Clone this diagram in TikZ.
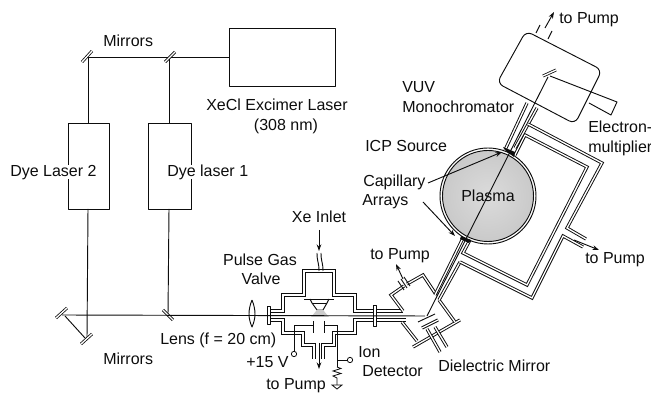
\documentclass[tikz,border=0pt]{standalone}
\usepackage{fontspec}
\setmainfont{Liberation Sans}
\usetikzlibrary{arrows.meta}
\definecolor{ink}{gray}{0.05}
\tikzset{
 lbl/.style={font=\fontsize{12pt}{14pt}\selectfont,text=ink,inner sep=0pt,text height=8.6pt,text depth=2.4pt},
 ln/.style={draw=ink,line width=0.7pt,line join=round},
 thin1/.style={draw=ink,line width=0.6pt},
 dbl/.style={preaction={draw=ink,line width=2.4pt,line join=miter},draw=white,line width=1pt,line join=miter},
 dblk/.style={preaction={draw=ink,line width=2.8pt,line join=miter},draw=white,line width=0.9pt,line join=miter},
 mirr/.style={preaction={draw=ink,line width=2.2pt},draw=white,line width=1pt},
 arr/.style={draw=ink,line width=0.7pt,-{Stealth[length=5pt,width=3.5pt]}},
}
\begin{document}
\begin{tikzpicture}[x=0.75pt,y=-0.75pt]
\useasboundingbox (0,0) rectangle (651,398);
% lasers
\draw[ln] (229,28) rectangle (335,86);
\coordinate (exL) at (229,57);
\draw[ln] (68,123) rectangle (109,209);
\draw[ln] (148,123) rectangle (191,209);
% beams
\coordinate (m1) at (88,57); \coordinate (m2) at (169,57);
\coordinate (m3) at (168,315); \coordinate (m4) at (87,338);
\coordinate (m5) at (62,315);
\draw[ln] (exL) -- (m1) -- (88,123);
\draw[ln] (m2) -- (169,123);
\draw[ln] (88,209) -- (m4);
\draw[ln] (169,209) -- (m3);
% mirrors
\draw[mirr] (82,62) -- (92,51);
\draw[mirr] (165,62) -- (175,52);
\draw[mirr] (56,318) -- (67,308);
\draw[mirr] (81,344) -- (92,334);
\draw[mirr] (163,310) -- (173,320);
\draw[ln] (65,316) -- (85,338);
% lens
\draw[ln] (252,300) .. controls (248,310) and (248,318) .. (252,327) .. controls (256,318) and (256,310) .. (252,300);
% chamber
\draw[dblk] (270,311) -- (283,311) -- (283,295) -- (304,295) -- (304,271) -- (334,271) -- (334,295) -- (355,295) -- (355,311) -- (373,311);
\draw[dblk] (270,320) -- (283,320) -- (283,333) -- (303,333) -- (303,345) -- (314,345) -- (314,359);
\draw[dblk] (323,359) -- (323,345) -- (334,345) -- (334,333) -- (355,333) -- (355,320) -- (373,320);
\draw[dblk] (376,311) -- (403,311);
\draw[dblk] (376,320) -- (406,320);
% flanges
\draw[ln,fill=white] (267,306) rectangle (270,324);
\draw[ln,fill=white] (373,305) rectangle (376,326);
% valve
\draw[ln] (304,299) -- (334,299);
\draw[ln] (310,299) -- (312,303) -- (317,310) -- (323,310) -- (327,303) -- (329,299);
\draw[ln] (312,303) -- (327,303);
\fill[gray!40] (317,310) -- (323,310) -- (329,317) -- (311,317) -- cycle;
% axis beam over the plume
\draw[ln] (m5) -- (425,316);
\draw[ln] (319,271) .. controls (319,262) and (317,262) .. (317,253);
\draw[ln] (323,271) .. controls (323,262) and (321,262) .. (321,253);
\draw[arr] (319,230) -- (319,251);
% electrodes
\draw[thin1] (294,354) -- (294,325) -- (313,325);
\draw[thin1] (313,321) -- (313,333);
\draw[thin1] (324,321) -- (324,333);
\draw[thin1] (324,325) -- (337,325) -- (337,367);
\draw[thin1] (337,367) -- (341,368.5) -- (333,371) -- (341,373.5) -- (333,376) -- (337,378) -- (337,385);
\draw[thin1] (332,385) -- (342,385) -- (337,389) -- cycle;
\draw[thin1] (337,360) -- (348,360);
\node[circle,draw=ink,line width=0.6pt,fill=white,minimum size=4pt,inner sep=0pt] (plus) at (294,354) {};
\node[circle,draw=ink,line width=0.6pt,fill=white,minimum size=4pt,inner sep=0pt] (ion) at (350,360) {};
\draw[arr] (319,343) -- (319,369);
% pump cross (right chamber)
\draw[dbl] (403,311) -- (391,295) -- (404,286);
\draw[dbl] (407,284) -- (423,275) -- (435,293);
\draw[ln] (398,281) -- (404,290);
\draw[ln] (401,279) -- (407,288);
\draw[ln] (404,277) -- (410,286);
\draw[arr] (403,279) -- (396,264);
\draw[dbl] (402,322) -- (417,341);
\draw[dbl] (413,347) -- (460,320);
\draw[dbl] (439,300) -- (455,322);
% big pipe and housing
\draw[dbl] (463,238) -- (435,295);
\draw[dbl] (460,262) -- (439,300);
\draw[dbl] (505,150) -- (527,103);
\draw[dbl] (515,155) -- (525,135) -- (587,167) -- (527,285) -- (463,253) -- (470,240);
\draw[dbl] (515,148) -- (537,108);
\draw[dbl] (528,124) -- (602,163) -- (567,228) -- (586,239);
\draw[dbl] (583,247) -- (563,236) -- (532,298) -- (460,262);
\draw[arr] (574,240) -- (599,250);
% plasma
\draw[ln] (488,196) circle[radius=48];
\shadedraw[draw=ink,line width=0.7pt,inner color=gray!28,outer color=gray!42] (488,196) circle[radius=45.5];
\fill[ink] (503,147) -- (515,152) -- (514,157) -- (506,151) -- cycle;
\fill[ink] (461,236) -- (471,240) -- (469,243) -- (460,239) -- cycle;
\draw[arr] (428,183) -- (502,152);
\draw[arr] (423,202) -- (455,236);
% monochromator
\draw[ln,rounded corners=5pt,fill=white] (526,31) -- (602,70) -- (575,124) -- (497,83) -- cycle;
\draw[ln] (540,25) -- (536,33);
\draw[ln] (552,31) -- (548,39);
\draw[arr] (545,28) -- (554,12);
\draw[ln] (550,76) -- (617,102) -- (611,115) -- (589,103);
% main beam after the pipes so it stays visible
\draw[ln] (427,316) -- (467,237) -- (510,152) -- (548,77);
\draw[mirr] (543,76) -- (556,70);
% dielectric mirror
\draw[dbl] (422,328) -- (438,320);
\draw[ln] (418,322) -- (435,314);
\draw[dbl] (427,329) -- (440,352);
\draw[dbl] (435,327) -- (447,347);
% labels
\node[lbl,anchor=west] (t1) at (103,42) {Mirrors};
\node[lbl,anchor=west] (t2) at (103,360) {Mirrors};
\node[lbl] (t3) at (277,106) {XeCl Excimer Laser};
\node[lbl] (t4) at (286,126) {(308 nm)};
\node[lbl,anchor=west,fill=white] (t5) at (10,172) {Dye Laser 2};
\node[lbl,anchor=west,fill=white] (t6) at (167,172) {Dye laser 1};
\node[lbl] (t7) at (319,218) {Xe Inlet};
\node[lbl] (t8) at (260,261) {Pulse Gas};
\node[lbl] (t9) at (261,280) {Valve};
\node[lbl,anchor=west] (t10) at (160,340) {Lens (f = 20 cm)};
\node[lbl,anchor=west] (t11) at (246,363) {+15 V};
\node[lbl,anchor=west] (t12) at (266,385) {to Pump};
\node[lbl,anchor=west] (t13) at (358,353) {Ion};
\node[lbl,anchor=west] (t14) at (362,372) {Detector};
\node[lbl,anchor=west] (t15) at (370,255) {to Pump};
\node[lbl,anchor=west] (t16) at (438,367) {Dielectric Mirror};
\node[lbl,anchor=west] (t17) at (402,88) {VUV};
\node[lbl,anchor=west] (t18) at (402,108) {Monochromator};
\node[lbl,anchor=west] (t19) at (365,147) {ICP Source};
\node[lbl,anchor=west] (t20) at (363,182) {Capillary};
\node[lbl,anchor=west] (t21) at (362,201) {Arrays};
\node[lbl] (t22) at (488,197) {Plasma};
\node[lbl,anchor=west] (t23) at (588,128) {Electron-};
\node[lbl,anchor=west] (t24) at (588,148) {multiplier};
\node[lbl,anchor=west] (t25) at (559,19) {to Pump};
\node[lbl,anchor=west] (t26) at (585,259) {to Pump};
\end{tikzpicture}
\end{document}
